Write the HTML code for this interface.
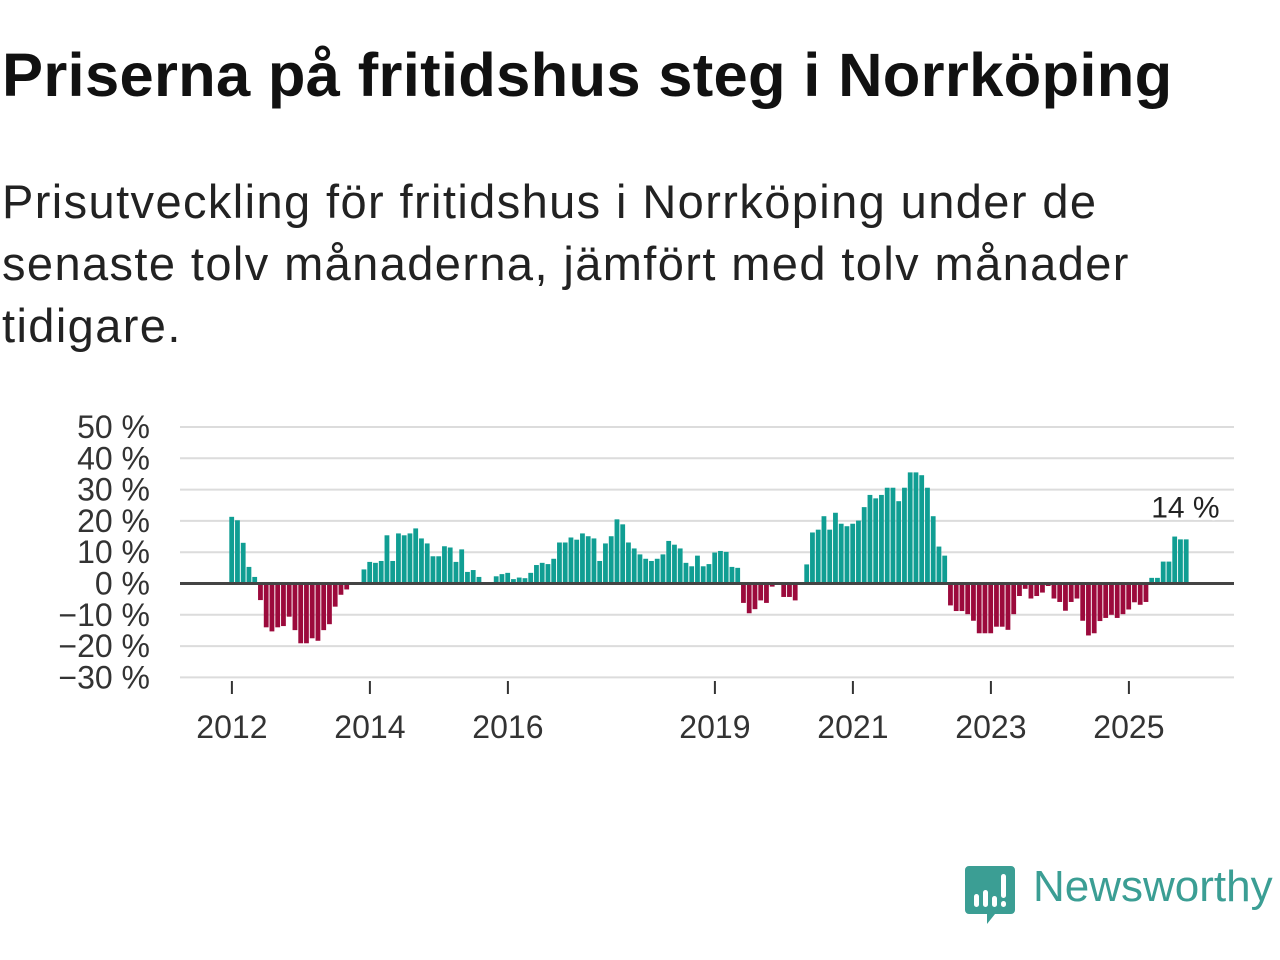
<!DOCTYPE html>
<html><head><meta charset="utf-8"><style>
body{margin:0;background:#fff;width:1280px;height:960px;overflow:hidden;font-family:"Liberation Sans",sans-serif;}
#title{position:absolute;left:2px;top:40px;font-size:61.5px;font-weight:bold;color:#111;margin:0;letter-spacing:0.3px;white-space:nowrap;}
#sub{position:absolute;left:2px;top:171px;font-size:47px;line-height:62px;color:#222;width:1280px;letter-spacing:1.4px;white-space:nowrap;}
svg{position:absolute;left:0;top:0;}
</style></head><body>
<h1 id="title">Priserna på fritidshus steg i Norrköping</h1>
<div id="sub">Prisutveckling för fritidshus i Norrköping under de<br>senaste tolv månaderna, jämfört med tolv månader<br>tidigare.</div>
<svg id="chart" width="1280" height="960"></svg>
<div style="position:absolute;left:965px;top:866px;">
<svg width="52" height="60" viewBox="0 0 52 60" style="position:static"><path d="M4 0H46a4 4 0 0 1 4 4V44a4 4 0 0 1-4 4H30L22 58V48H4a4 4 0 0 1-4-4V4a4 4 0 0 1 4-4z" fill="#3b9e94"/><rect x="9" y="28" width="5" height="13" rx="2.5" fill="#fff"/><rect x="18" y="24" width="5" height="17" rx="2.5" fill="#fff"/><rect x="27" y="30" width="5" height="11" rx="2.5" fill="#fff"/><rect x="36" y="8" width="5" height="24" rx="2.5" fill="#fff"/><rect x="36" y="35" width="5" height="6" rx="2.5" fill="#fff"/></svg>
</div>
<div style="position:absolute;left:1033px;top:862px;font-size:44px;color:#3b9e94;">Newsworthy</div>
<script>
const values = [21.3,20.2,13,5.3,2.1,-5.3,-14,-15.3,-14,-13.6,-10.6,-14.9,
-19.1,-19.1,-17.5,-18.3,-14.9,-13,-7.4,-3.6,-1.9,0,0,4.5,
6.9,6.6,7.2,15.4,7.2,16,15.4,16,17.6,14.4,12.8,8.7,
8.7,11.9,11.5,6.9,10.9,3.7,4.3,2.1,0,0,2.3,3,
3.4,1.4,1.9,1.7,3.4,5.9,6.6,6.2,7.9,13.1,13.1,14.7,
14,16,15.1,14.4,7.2,12.8,15.1,20.5,18.9,13.1,11.2,9.3,
7.9,7.2,7.9,9.3,13.6,12.4,11.2,6.6,5.5,8.9,5.5,6.2,
9.9,10.4,10.1,5.3,5,-6.2,-9.5,-8.2,-5.4,-6.2,-1,0,
-4.3,-4.3,-5.4,0,6.1,16.3,17.2,21.5,17.2,22.6,19.1,18.3,
19.1,20.1,24.4,28.3,27.2,28.3,30.6,30.6,26.3,30.6,35.5,35.5,
34.6,30.6,21.5,11.8,8.9,-7,-8.8,-8.8,-9.8,-11.9,-15.9,-15.9,
-15.9,-13.8,-13.8,-14.8,-9.8,-4,-1.7,-4.8,-4,-2.9,-0.8,-4.8,
-5.9,-8.7,-5.9,-4.8,-11.9,-16.6,-15.9,-12,-11,-10,-11,-9.8,
-8.3,-6,-6.8,-5.9,1.8,1.8,7,7,15,14.1,14.1];
const yTicks = [50,40,30,20,10,0,-10,-20,-30];
const yTickLabels = ["50 %","40 %","30 %","20 %","10 %","0 %","−10 %","−20 %","−30 %"];
const xTickYears = [2012,2014,2016,2019,2021,2023,2025];
const lastLabel = "14 %";
const NS='http://www.w3.org/2000/svg';
const svg=document.getElementById('chart');
const y0=583.5, ppu=3.13, x0=231.9, pm=5.75;
const y=v=>y0-v*ppu;
const x=i=>x0+i*pm;
function mk(t,a){const e=document.createElementNS(NS,t);for(const k in a)e.setAttribute(k,a[k]);svg.appendChild(e);return e;}
yTicks.forEach((t,k)=>{
  if(t!==0){const g=mk('line',{x1:180,x2:1234,y1:y(t),y2:y(t),stroke:'#dcdcdc','stroke-width':2});
  
  }
  const l=mk('text',{x:150,y:y(t)+11,'text-anchor':'end','font-size':32,fill:'#333','font-family':'Liberation Sans, sans-serif'});
  l.textContent=yTickLabels[k];
  
  
});
values.forEach((v,i)=>{
  const r=mk('rect',{x:x(i)-2.6,width:4.8,y:Math.min(y(v),y0),height:Math.abs(v)*ppu,fill:v>=0?'#109e93':'#9c0a3c'});
  
  
});
const z=mk('line',{x1:180,x2:1234,y1:y0,y2:y0,stroke:'#444','stroke-width':3});


xTickYears.forEach(yr=>{
  const xi=x((yr-2012)*12);
  const t=mk('line',{x1:xi,x2:xi,y1:681,y2:694,stroke:'#333','stroke-width':2});
  
  
  const l=mk('text',{x:xi,y:738,'text-anchor':'middle','font-size':32,fill:'#333','font-family':'Liberation Sans, sans-serif'});
  l.textContent=yr;
  
  
});
const li=values.length-1;
const lab=mk('text',{x:x(li)-1,y:y(values[li])-22,'text-anchor':'middle','font-size':30,fill:'#222',stroke:'#fff','stroke-width':5,'paint-order':'stroke','font-family':'Liberation Sans, sans-serif'});
lab.textContent=lastLabel;


</script>
</body></html>
